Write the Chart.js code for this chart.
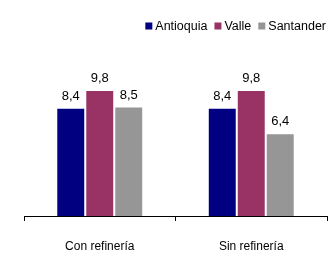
<!DOCTYPE html>
<html>
<head>
<meta charset="utf-8">
<script src="https://cdn.jsdelivr.net/npm/chart.js@4.4.0/dist/chart.umd.min.js"></script>
<style>
  html, body { margin: 0; padding: 0; background: #fff; }
  #wrap { width: 329px; height: 256px; }
</style>
</head>
<body>
<div id="wrap"><canvas id="chart" width="329" height="256"></canvas></div>
<script>
const categories = ['Con refinería', 'Sin refinería'];
const seriesNames = ['Antioquia', 'Valle', 'Santander'];
const antioquia = [8.4, 8.4];
const valle = [9.8, 9.8];
const santander = [8.5, 6.4];
const colors = ['#000080', '#993366', '#969696'];

const FONT = "'Liberation Sans', Arial, sans-serif";

// etiquetas de valor encima de cada barra
const valueLabels = {
    id: 'valueLabels',
    afterDatasetsDraw(chart) {
        const ctx = chart.ctx;
        ctx.save();
        ctx.font = '13px ' + FONT;
        ctx.fillStyle = '#000';
        ctx.textAlign = 'center';
        ctx.textBaseline = 'bottom';
        chart.data.datasets.forEach((ds, i) => {
            chart.getDatasetMeta(i).data.forEach((bar, j) => {
                const txt = ds.data[j].toFixed(1).replace('.', ',');
                ctx.fillText(txt, bar.x, bar.y - 6);
            });
        });
        ctx.restore();
    }
};

// leyenda compacta arriba a la derecha
const compactLegend = {
    id: 'compactLegend',
    afterDraw(chart) {
        const ctx = chart.ctx;
        ctx.save();
        ctx.font = '12.5px ' + FONT;
        ctx.textBaseline = 'middle';
        ctx.textAlign = 'left';
        let x = 326;
        const y = 26;
        const items = chart.data.datasets.slice().reverse();
        items.forEach(ds => {
            const w = ctx.measureText(ds.label).width;
            x -= w;
            ctx.fillStyle = '#000';
            ctx.fillText(ds.label, x, y + 1);
            x -= 3 + 7;
            ctx.fillStyle = ds.backgroundColor;
            ctx.fillRect(x, y - 3.5, 7, 7);
            x -= 7;
        });
        ctx.restore();
    }
};

new Chart(document.getElementById('chart'), {
    type: 'bar',
    data: {
        labels: categories,
        datasets: [antioquia, valle, santander].map((d, i) => ({
            label: seriesNames[i],
            data: d,
            backgroundColor: colors[i],
            borderWidth: 0,
            barPercentage: 0.93,
            categoryPercentage: 0.574
        }))
    },
    options: {
        responsive: false,
        animation: false,
        layout: { padding: { left: 24, right: 2, top: 44, bottom: 0 } },
        plugins: {
            legend: { display: false },
            tooltip: { enabled: false }
        },
        scales: {
            y: { display: false, min: 0, max: 13.48 },
            x: {
                afterFit(scale) { scale.height = 40; },
                grid: {
                    offset: true,
                    drawOnChartArea: false,
                    color: '#000',
                    tickLength: 5
                },
                border: { color: '#000', width: 1 },
                ticks: {
                    color: '#000',
                    padding: 18,
                    font: { size: 12, family: FONT }
                }
            }
        }
    },
    plugins: [valueLabels, compactLegend]
});
</script>
</body>
</html>
